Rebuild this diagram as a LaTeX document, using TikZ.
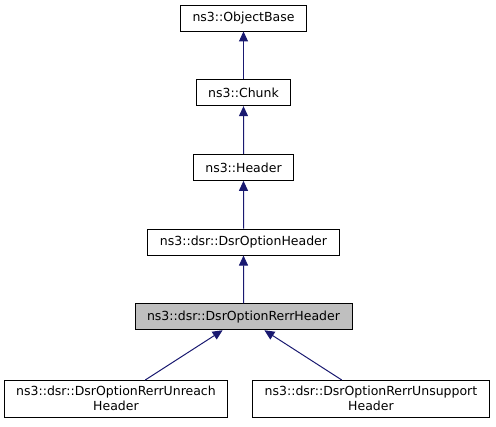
\documentclass[tikz,border=0pt]{standalone}
\usepackage{fontspec}
\setmainfont{DejaVu Sans}
\usetikzlibrary{arrows.meta}
\definecolor{edgeblue}{HTML}{191970}
\definecolor{hlgray}{HTML}{BFBFBF}
\begin{document}
\begin{tikzpicture}[
			x=1pt, y=1pt,
			% Define styles for nodes
			level distance=74.7pt,
			level 5/.style={sibling distance=255pt, level distance=82pt},
			every node/.style={draw=black, text=black, rectangle, align=center, inner xsep=12pt, inner ysep=6pt, minimum height=26pt, line width=0.9pt, font=\fontsize{12.5}{15}\selectfont},
			edge from parent/.style={draw=edgeblue, line width=1pt, {Triangle[length=10pt,width=9pt]}-}
		]
		\useasboundingbox (0,0) rectangle (496,-427);

		% Root node
		\node (objbase) at (243.5,-18) {ns3::ObjectBase}
		% First level
		child {node (chunk) {ns3::Chunk}
				% Second level
				child {node (header) {ns3::Header}
						child {node (dsroptheader) {ns3::dsr::DsrOptionHeader}
								child {node[fill=hlgray] (rerrheader) {ns3::dsr::DsrOptionRerrHeader}
										child {node (unreach) {ns3::dsr::DsrOptionRerrUnreach\\Header}}
										child {node (unsupport) {ns3::dsr::DsrOptionRerrUnsupport\\Header}}
									}
							}
					}
			};
	\end{tikzpicture}
\end{document}
